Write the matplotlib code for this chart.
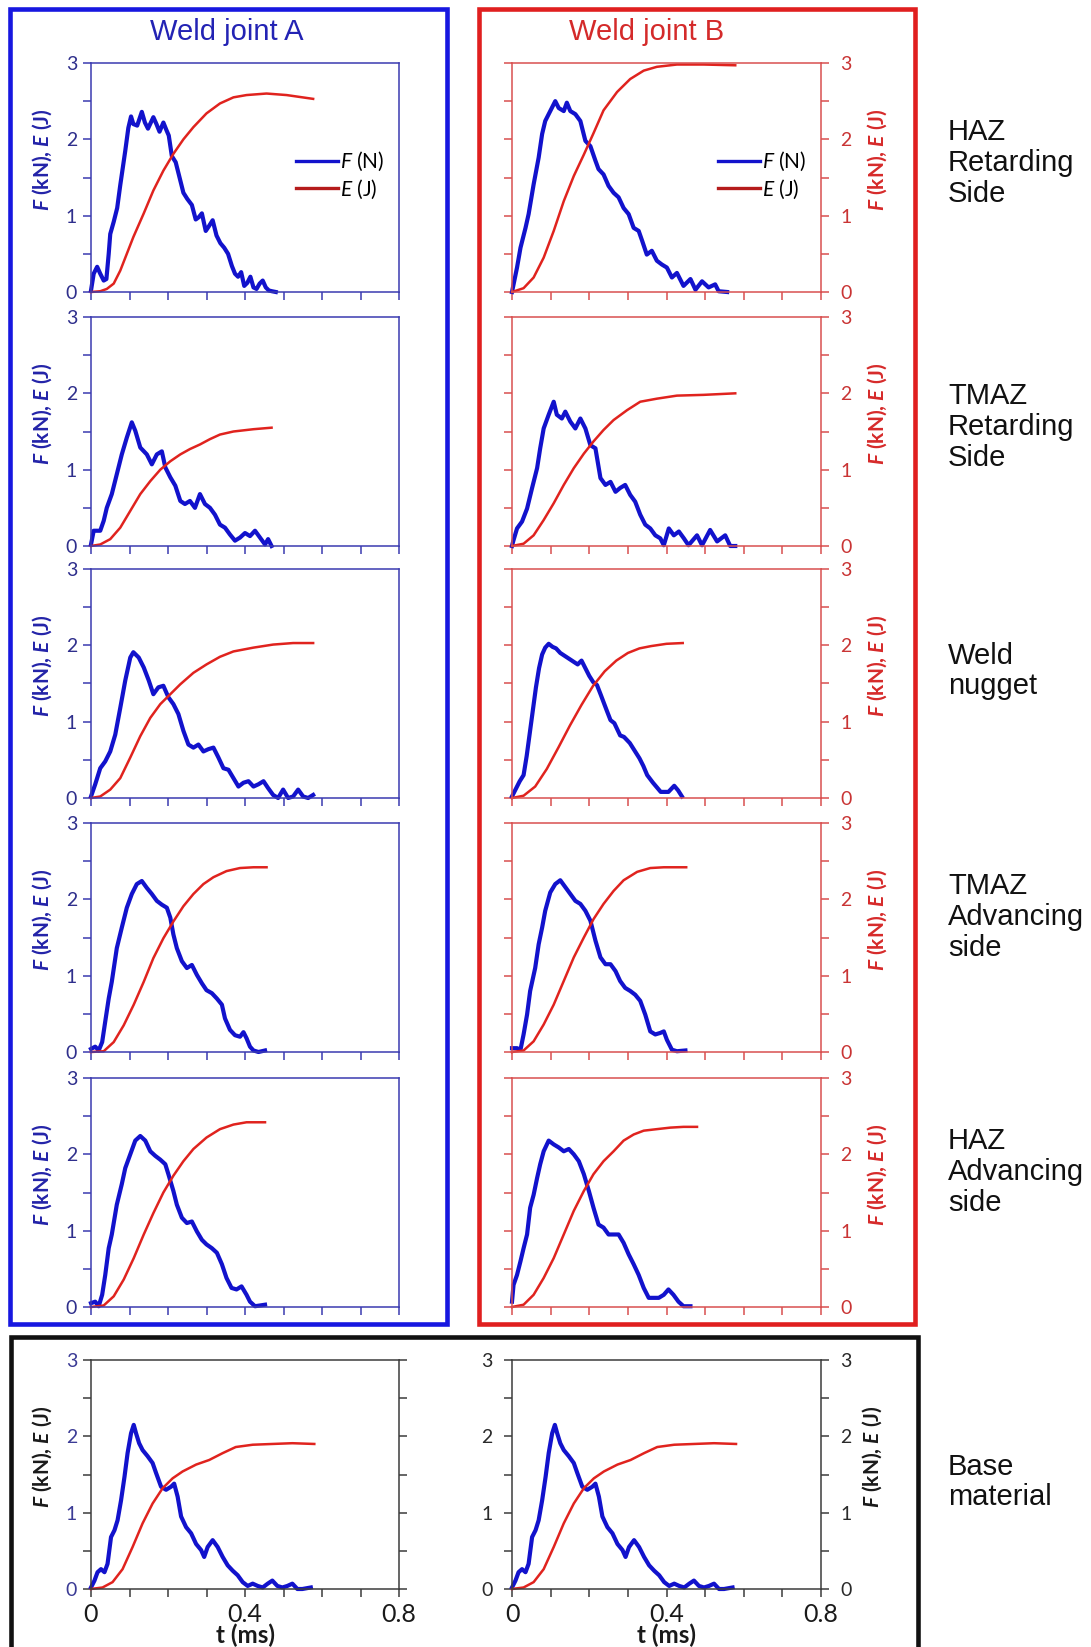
import numpy as np
import matplotlib
matplotlib.use('Agg')
import matplotlib.pyplot as plt
from matplotlib.patches import Rectangle

plt.rcParams['font.family'] = ['Lato', 'DejaVu Sans']
plt.rcParams['mathtext.fontset'] = 'custom'
plt.rcParams['mathtext.rm'] = 'Lato'
plt.rcParams['mathtext.it'] = 'Lato:italic'
plt.rcParams['mathtext.bf'] = 'Lato:bold'
plt.rcParams['mathtext.bfit'] = 'Lato:bold:italic'

# ---- impact curves: force F (kN) and absorbed energy E (J) vs time t (ms) ----
# weld joint A
A1_F_t = [0, 0.007, 0.016, 0.024, 0.033, 0.040, 0.046, 0.050, 0.059, 0.068, 0.076, 0.089, 0.097, 0.104,
          0.110, 0.120, 0.132, 0.140, 0.148, 0.162, 0.170, 0.178, 0.188, 0.196, 0.202, 0.210, 0.220,
          0.230, 0.240, 0.250, 0.262, 0.272, 0.280, 0.288, 0.298, 0.306, 0.316, 0.326, 0.336, 0.346,
          0.356, 0.366, 0.374, 0.382, 0.390, 0.398, 0.406, 0.414, 0.422, 0.430, 0.438, 0.446, 0.454,
          0.462, 0.470, 0.480]
A1_F = [0.02, 0.24, 0.33, 0.24, 0.15, 0.17, 0.50, 0.76, 0.92, 1.10, 1.40, 1.85, 2.15, 2.30,
        2.20, 2.18, 2.36, 2.22, 2.14, 2.29, 2.20, 2.10, 2.22, 2.12, 2.05, 1.78, 1.70,
        1.50, 1.30, 1.22, 1.14, 0.95, 0.98, 1.03, 0.80, 0.86, 0.94, 0.74, 0.64, 0.58,
        0.50, 0.34, 0.24, 0.20, 0.26, 0.08, 0.12, 0.20, 0.06, 0.04, 0.11, 0.15, 0.06,
        0.02, 0.01, 0.0]
A1_E_t = [0, 0.024, 0.041, 0.059, 0.076, 0.093, 0.110, 0.137, 0.162, 0.188, 0.214, 0.240, 0.266,
          0.300, 0.335, 0.370, 0.404, 0.456, 0.508, 0.577]
A1_E = [0, 0.01, 0.04, 0.11, 0.28, 0.50, 0.72, 1.03, 1.33, 1.59, 1.81, 2.00, 2.16,
        2.34, 2.47, 2.55, 2.58, 2.60, 2.58, 2.53]

A2_F_t = [0, 0.007, 0.024, 0.033, 0.041, 0.054, 0.067, 0.080, 0.093, 0.106, 0.115, 0.128, 0.145,
          0.158, 0.171, 0.184, 0.193, 0.206, 0.219, 0.232, 0.244, 0.257, 0.270, 0.283, 0.296, 0.309,
          0.322, 0.335, 0.348, 0.361, 0.374, 0.387, 0.400, 0.413, 0.426, 0.439, 0.452, 0.460, 0.469]
A2_F = [0.02, 0.20, 0.20, 0.33, 0.50, 0.68, 0.94, 1.20, 1.42, 1.62, 1.51, 1.29, 1.20,
        1.07, 1.20, 1.24, 1.03, 0.90, 0.79, 0.59, 0.55, 0.59, 0.50, 0.68, 0.55, 0.50,
        0.41, 0.28, 0.24, 0.15, 0.07, 0.11, 0.17, 0.13, 0.20, 0.11, 0.02, 0.09, 0.0]
A2_E_t = [0, 0.024, 0.050, 0.076, 0.102, 0.128, 0.154, 0.180, 0.206, 0.232, 0.257, 0.283, 0.309,
          0.335, 0.370, 0.422, 0.469]
A2_E = [0, 0.02, 0.09, 0.24, 0.46, 0.68, 0.85, 1.00, 1.11, 1.20, 1.27, 1.33, 1.40,
        1.46, 1.50, 1.53, 1.55]

A3_F_t = [0, 0.011, 0.024, 0.037, 0.050, 0.063, 0.076, 0.089, 0.102, 0.110, 0.124, 0.137, 0.150,
          0.162, 0.175, 0.188, 0.201, 0.214, 0.227, 0.240, 0.253, 0.266, 0.279, 0.292, 0.305, 0.318,
          0.331, 0.344, 0.357, 0.370, 0.383, 0.396, 0.409, 0.422, 0.435, 0.448, 0.460, 0.473, 0.486,
          0.499, 0.512, 0.525, 0.538, 0.551, 0.564, 0.577]
A3_F = [0.02, 0.18, 0.39, 0.48, 0.61, 0.83, 1.18, 1.54, 1.84, 1.91, 1.84, 1.71, 1.54,
        1.36, 1.45, 1.47, 1.32, 1.23, 1.10, 0.88, 0.70, 0.66, 0.70, 0.61, 0.64, 0.66,
        0.53, 0.39, 0.37, 0.26, 0.15, 0.20, 0.22, 0.15, 0.18, 0.22, 0.13, 0.04, 0.0,
        0.11, 0.0, 0.02, 0.11, 0.02, 0.0, 0.04]
A3_E_t = [0, 0.024, 0.050, 0.076, 0.102, 0.128, 0.154, 0.180, 0.206, 0.232, 0.266, 0.300, 0.335,
          0.370, 0.422, 0.473, 0.525, 0.577]
A3_E = [0, 0.02, 0.11, 0.26, 0.53, 0.81, 1.05, 1.23, 1.36, 1.49, 1.64, 1.75, 1.85,
        1.92, 1.97, 2.01, 2.03, 2.03]

A4_F_t = [0, 0.011, 0.020, 0.029, 0.037, 0.046, 0.054, 0.067, 0.080, 0.093, 0.106, 0.119, 0.132,
          0.145, 0.158, 0.171, 0.184, 0.197, 0.206, 0.214, 0.223, 0.236, 0.249, 0.262, 0.275, 0.288,
          0.300, 0.314, 0.327, 0.340, 0.348, 0.361, 0.374, 0.387, 0.396, 0.404, 0.413, 0.422, 0.435,
          0.452]
A4_F = [0.04, 0.07, 0.02, 0.13, 0.40, 0.70, 0.92, 1.36, 1.63, 1.89, 2.07, 2.20, 2.24,
        2.15, 2.07, 1.98, 1.93, 1.89, 1.76, 1.54, 1.36, 1.19, 1.10, 1.14, 1.01, 0.90,
        0.81, 0.77, 0.70, 0.62, 0.44, 0.29, 0.22, 0.20, 0.26, 0.18, 0.07, 0.02, 0.0,
        0.02]
A4_E_t = [0, 0.033, 0.059, 0.085, 0.111, 0.137, 0.162, 0.188, 0.214, 0.240, 0.266, 0.292, 0.318,
          0.352, 0.387, 0.422, 0.456]
A4_E = [0, 0.01, 0.13, 0.35, 0.62, 0.92, 1.23, 1.49, 1.71, 1.91, 2.07, 2.20, 2.29,
        2.37, 2.41, 2.42, 2.42]

A5_F_t = [0, 0.011, 0.020, 0.029, 0.037, 0.046, 0.054, 0.067, 0.080, 0.089, 0.102, 0.115, 0.128,
          0.141, 0.154, 0.167, 0.180, 0.193, 0.201, 0.214, 0.223, 0.236, 0.249, 0.262, 0.275, 0.288,
          0.300, 0.314, 0.327, 0.340, 0.352, 0.365, 0.378, 0.391, 0.404, 0.413, 0.426, 0.452]
A5_F = [0.05, 0.07, 0.01, 0.16, 0.42, 0.77, 0.95, 1.34, 1.61, 1.82, 2.00, 2.18, 2.24,
        2.18, 2.04, 1.98, 1.93, 1.87, 1.74, 1.52, 1.34, 1.17, 1.10, 1.12, 0.99, 0.88,
        0.82, 0.77, 0.71, 0.56, 0.38, 0.25, 0.23, 0.27, 0.16, 0.07, 0.01, 0.03]
A5_E_t = [0, 0.033, 0.059, 0.085, 0.111, 0.137, 0.162, 0.188, 0.214, 0.240, 0.266, 0.300, 0.335,
          0.370, 0.404, 0.452]
A5_E = [0, 0.02, 0.14, 0.36, 0.64, 0.95, 1.23, 1.50, 1.72, 1.91, 2.07, 2.22, 2.33,
        2.39, 2.42, 2.42]

# weld joint B
B1_F_t = [0, 0.013, 0.022, 0.035, 0.043, 0.056, 0.069, 0.078, 0.086, 0.099, 0.112, 0.121, 0.134,
          0.142, 0.151, 0.164, 0.177, 0.190, 0.203, 0.216, 0.224, 0.237, 0.250, 0.263, 0.276, 0.289,
          0.302, 0.315, 0.328, 0.337, 0.349, 0.362, 0.375, 0.388, 0.401, 0.414, 0.427, 0.444, 0.462,
          0.475, 0.492, 0.509, 0.526, 0.535, 0.557]
B1_F = [0.0, 0.32, 0.58, 0.84, 1.02, 1.41, 1.76, 2.07, 2.24, 2.37, 2.50, 2.41, 2.37,
        2.48, 2.37, 2.33, 2.24, 1.98, 1.91, 1.72, 1.61, 1.54, 1.39, 1.30, 1.24, 1.10,
        1.02, 0.84, 0.80, 0.67, 0.49, 0.54, 0.41, 0.36, 0.32, 0.19, 0.25, 0.08, 0.17,
        0.03, 0.14, 0.06, 0.10, 0.01, 0.0]
B1_E_t = [0, 0.030, 0.056, 0.082, 0.108, 0.134, 0.160, 0.186, 0.211, 0.237, 0.272, 0.306, 0.341,
          0.375, 0.427, 0.496, 0.578]
B1_E = [0, 0.05, 0.19, 0.45, 0.80, 1.19, 1.52, 1.80, 2.08, 2.38, 2.62, 2.79, 2.90,
        2.95, 2.98, 2.98, 2.97]

B2_F_t = [0, 0.003, 0.013, 0.026, 0.039, 0.052, 0.065, 0.073, 0.082, 0.095, 0.108, 0.116, 0.129,
          0.138, 0.151, 0.164, 0.177, 0.190, 0.203, 0.216, 0.229, 0.242, 0.255, 0.268, 0.280, 0.293,
          0.306, 0.319, 0.332, 0.345, 0.358, 0.371, 0.384, 0.393, 0.406, 0.419, 0.432, 0.445, 0.457,
          0.479, 0.492, 0.513, 0.531, 0.552, 0.565, 0.578]
B2_F = [0.0, 0.06, 0.23, 0.32, 0.49, 0.76, 1.02, 1.28, 1.54, 1.72, 1.89, 1.72, 1.67,
        1.76, 1.63, 1.54, 1.67, 1.54, 1.32, 1.28, 0.89, 0.80, 0.84, 0.71, 0.76, 0.80,
        0.67, 0.58, 0.41, 0.28, 0.23, 0.14, 0.10, 0.01, 0.23, 0.14, 0.19, 0.10, 0.01,
        0.14, 0.01, 0.21, 0.06, 0.14, 0.0, 0.0]
B2_E_t = [0, 0.030, 0.056, 0.082, 0.108, 0.134, 0.160, 0.186, 0.211, 0.237, 0.263, 0.298, 0.332,
          0.375, 0.427, 0.496, 0.578]
B2_E = [0, 0.03, 0.14, 0.34, 0.56, 0.80, 1.02, 1.21, 1.37, 1.52, 1.65, 1.78, 1.89,
        1.93, 1.97, 1.98, 2.00]

B3_F_t = [0, 0.010, 0.020, 0.030, 0.038, 0.046, 0.054, 0.062, 0.070, 0.078, 0.086, 0.095, 0.105,
          0.114, 0.125, 0.140, 0.155, 0.170, 0.180, 0.190, 0.200, 0.210, 0.220, 0.230, 0.245, 0.255,
          0.265, 0.280, 0.290, 0.305, 0.320, 0.330, 0.340, 0.350, 0.365, 0.385, 0.405, 0.420, 0.430,
          0.440]
B3_F = [0.02, 0.12, 0.22, 0.30, 0.55, 0.85, 1.15, 1.45, 1.70, 1.88, 1.97, 2.02, 1.98,
        1.96, 1.90, 1.85, 1.80, 1.75, 1.80, 1.70, 1.60, 1.52, 1.48, 1.35, 1.15, 1.02,
        0.98, 0.82, 0.80, 0.72, 0.60, 0.52, 0.42, 0.30, 0.20, 0.08, 0.08, 0.16, 0.10,
        0.02]
B3_E_t = [0, 0.030, 0.060, 0.090, 0.120, 0.150, 0.180, 0.210, 0.240, 0.270, 0.300, 0.330, 0.360,
          0.400, 0.442]
B3_E = [0, 0.03, 0.15, 0.38, 0.66, 0.95, 1.22, 1.47, 1.66, 1.80, 1.90, 1.96, 1.99,
        2.02, 2.03]

B4_F_t = [0, 0.013, 0.022, 0.030, 0.039, 0.047, 0.060, 0.069, 0.078, 0.086, 0.099, 0.112, 0.125,
          0.138, 0.151, 0.164, 0.177, 0.190, 0.203, 0.216, 0.229, 0.242, 0.255, 0.268, 0.280, 0.293,
          0.306, 0.319, 0.332, 0.345, 0.358, 0.371, 0.384, 0.393, 0.401, 0.414, 0.427, 0.449]
B4_F = [0.05, 0.05, 0.03, 0.23, 0.49, 0.80, 1.10, 1.41, 1.63, 1.85, 2.09, 2.20, 2.25,
        2.16, 2.07, 1.98, 1.94, 1.85, 1.72, 1.46, 1.24, 1.15, 1.15, 1.06, 0.93, 0.84,
        0.80, 0.75, 0.67, 0.49, 0.27, 0.23, 0.25, 0.27, 0.16, 0.03, 0.01, 0.02]
B4_E_t = [0, 0.030, 0.056, 0.082, 0.108, 0.134, 0.160, 0.186, 0.211, 0.237, 0.263, 0.289, 0.324,
          0.358, 0.393, 0.451]
B4_E = [0, 0.02, 0.14, 0.36, 0.62, 0.93, 1.24, 1.50, 1.74, 1.94, 2.11, 2.25, 2.36,
        2.41, 2.42, 2.42]

B5_F_t = [0, 0.004, 0.013, 0.022, 0.030, 0.039, 0.047, 0.056, 0.065, 0.073, 0.082, 0.095, 0.108,
          0.121, 0.134, 0.147, 0.160, 0.173, 0.186, 0.199, 0.211, 0.224, 0.237, 0.250, 0.263, 0.276,
          0.289, 0.302, 0.315, 0.328, 0.341, 0.354, 0.367, 0.380, 0.393, 0.405, 0.418, 0.431, 0.444,
          0.462]
B5_F = [0.07, 0.29, 0.42, 0.60, 0.77, 0.95, 1.30, 1.47, 1.69, 1.87, 2.04, 2.18, 2.13,
        2.09, 2.04, 2.07, 2.00, 1.91, 1.74, 1.52, 1.30, 1.08, 1.04, 0.95, 0.95, 0.95,
        0.84, 0.69, 0.56, 0.42, 0.25, 0.12, 0.12, 0.12, 0.16, 0.23, 0.16, 0.07, 0.01,
        0.01]
B5_E_t = [0, 0.030, 0.056, 0.082, 0.108, 0.134, 0.160, 0.186, 0.211, 0.237, 0.263, 0.289, 0.315,
          0.341, 0.375, 0.410, 0.444, 0.479]
B5_E = [0, 0.03, 0.16, 0.38, 0.64, 0.95, 1.26, 1.52, 1.74, 1.91, 2.04, 2.18, 2.26,
        2.31, 2.33, 2.35, 2.36, 2.36]

# base material (same specimen shown under both joints)
BM_F_t = [0, 0.009, 0.017, 0.026, 0.035, 0.043, 0.052, 0.061, 0.069, 0.078, 0.087, 0.095, 0.104,
          0.111, 0.117, 0.125, 0.134, 0.147, 0.160, 0.169, 0.182, 0.195, 0.208, 0.216, 0.225, 0.234,
          0.247, 0.260, 0.273, 0.286, 0.294, 0.303, 0.316, 0.329, 0.342, 0.355, 0.368, 0.381, 0.394,
          0.407, 0.420, 0.433, 0.446, 0.459, 0.471, 0.484, 0.497, 0.510, 0.523, 0.536, 0.549, 0.571]
BM_F = [0.02, 0.11, 0.22, 0.26, 0.22, 0.33, 0.68, 0.77, 0.90, 1.16, 1.47, 1.78, 2.04,
        2.15, 2.04, 1.91, 1.82, 1.74, 1.65, 1.52, 1.34, 1.30, 1.34, 1.38, 1.21, 0.95,
        0.81, 0.73, 0.59, 0.51, 0.42, 0.55, 0.64, 0.55, 0.42, 0.31, 0.24, 0.18, 0.09,
        0.04, 0.07, 0.04, 0.02, 0.07, 0.11, 0.04, 0.02, 0.04, 0.07, 0.0, 0.0, 0.02]
BM_E_t = [0, 0.030, 0.056, 0.082, 0.108, 0.134, 0.160, 0.186, 0.212, 0.238, 0.273, 0.307, 0.342,
          0.376, 0.420, 0.471, 0.523, 0.580]
BM_E = [0, 0.02, 0.09, 0.26, 0.55, 0.86, 1.12, 1.32, 1.45, 1.54, 1.63, 1.69, 1.78,
        1.86, 1.89, 1.90, 1.91, 1.90]

zones = ['HAZ\nRetarding\nSide', 'TMAZ\nRetarding\nSide', 'Weld\nnugget',
         'TMAZ\nAdvancing\nside', 'HAZ\nAdvancing\nside', 'Base\nmaterial']
joint_titles = ['Weld joint A', 'Weld joint B']
x_ticklabels = ['0', '', '', '', '0.4', '', '', '', '0.8']
y_ticklabels = ['0', '', '1', '', '2', '', '3']

curves_A = [(A1_F_t, A1_F, A1_E_t, A1_E), (A2_F_t, A2_F, A2_E_t, A2_E), (A3_F_t, A3_F, A3_E_t, A3_E),
            (A4_F_t, A4_F, A4_E_t, A4_E), (A5_F_t, A5_F, A5_E_t, A5_E), (BM_F_t, BM_F, BM_E_t, BM_E)]
curves_B = [(B1_F_t, B1_F, B1_E_t, B1_E), (B2_F_t, B2_F, B2_E_t, B2_E), (B3_F_t, B3_F, B3_E_t, B3_E),
            (B4_F_t, B4_F, B4_E_t, B4_E), (B5_F_t, B5_F, B5_E_t, B5_E), (BM_F_t, BM_F, BM_E_t, BM_E)]

F_COLOR = '#1212cc'
E_COLOR = '#e0231e'
BLUE_FRAME = '#1717e0'
RED_FRAME = '#e01f1f'

W, H = 1091, 1647
fig = plt.figure(figsize=(W / 100, H / 100), dpi=100)


def px_box(x0, y0, x1, y1):
    """pixel box (top-left origin) -> figure fraction rect"""
    return [x0 / W, 1 - y1 / H, (x1 - x0) / W, (y1 - y0) / H]


row_tops = [63, 317, 569, 823, 1078, 1360]
ax_h = 229
col_x = [(91, 399), (512, 821)]

YLABEL = r'$\mathbfit{F}$ (kN), $\mathbfit{E}$ (J)'

for row in range(6):
    for col in range(2):
        x0, x1 = col_x[col]
        y0 = row_tops[row]
        ax = fig.add_axes(px_box(x0, y0, x1, y0 + ax_h))
        ft, f, et, e = (curves_A if col == 0 else curves_B)[row]
        ax.plot(ft, f, color=F_COLOR, lw=3.0, clip_on=False, label=r'$\mathit{F}$ (N)')
        ax.plot(et, e, color=E_COLOR, lw=1.8, clip_on=False, label=r'$\mathit{E}$ (J)')
        ax.set_xlim(0, 0.8)
        ax.set_ylim(0, 3)

        base = row == 5
        if base:
            spine_c = '#3c3c3c'
            lab_c = '#3b3b95' if col == 0 else '#2a2a2a'
            ylab_c = '#1a1a1a'
        elif col == 0:
            spine_c, lab_c, ylab_c = '#3b3bb0', '#2f2f8c', '#2323a8'
        else:
            spine_c, lab_c, ylab_c = '#d85050', '#c93434', '#d62a2a'

        for s in ax.spines.values():
            s.set_color(spine_c)
            s.set_linewidth(1.1)

        ax.set_xticks(np.arange(0, 0.81, 0.1))
        ax.set_yticks(np.arange(0, 3.01, 0.5))
        ax.set_yticklabels(y_ticklabels)
        ax.tick_params(direction='out', length=6, width=1.1, color=spine_c,
                       labelcolor=lab_c, labelsize=14)
        if base:
            ax.set_xticklabels(x_ticklabels)
            ax.tick_params(axis='x', labelsize=18, labelcolor='#1a1a1a', pad=4)
            ax.set_xlabel('t (ms)', fontsize=17.5, fontweight='bold', color='#1a1a1a', labelpad=-2)
        else:
            ax.set_xticklabels([])

        right_side = col == 1
        ax.tick_params(axis='y', left=True, right=(col == 1 or base),
                       labelleft=(col == 0 or base), labelright=right_side, pad=4)
        if right_side:
            ax.tick_params(axis='y', which='both', pad=8)
            ax.yaxis.set_label_position('right')
            ax.set_ylabel(YLABEL, fontsize=15, fontweight='bold', color=ylab_c, rotation=90)
            lx = 860 if base else 865
            ax.yaxis.set_label_coords((lx - x0) / (x1 - x0), 0.58)
        else:
            ax.set_ylabel(YLABEL, fontsize=15, fontweight='bold', color=ylab_c)
            ax.yaxis.set_label_coords((54 - x0) / (x1 - x0), 0.58)
        if base and col == 1:
            for t in ax.get_yticklabels():
                t.set_color('#2a2a2a')

        if row == 0:
            leg = ax.legend(loc='center left', bbox_to_anchor=(0.667, 0.51), frameon=False,
                            fontsize=15, handlelength=2.0, handletextpad=0.1, borderpad=0,
                            borderaxespad=0, labelspacing=0.2)
            leg.get_lines()[0].set_linewidth(2.4)
            leg.get_lines()[1].set_linewidth(2.4)
            leg.get_lines()[1].set_color('#b51c1c')

# group frames around each weld joint and around the base material
frames = [((10, 9, 447, 1324), BLUE_FRAME), ((479, 9, 915, 1324), RED_FRAME),
          ((11, 1337, 918, 1700), '#111111')]
for (fx0, fy0, fx1, fy1), c in frames:
    fig.add_artist(Rectangle((fx0 / W, 1 - fy1 / H), (fx1 - fx0) / W, (fy1 - fy0) / H,
                             transform=fig.transFigure, fill=False, edgecolor=c,
                             linewidth=3.3, clip_on=False))

fig.text(227 / W, 1 - 32 / H, joint_titles[0], fontsize=21, color='#2323b4',
         family='Liberation Sans', ha='center', va='center')
fig.text(647 / W, 1 - 32 / H, joint_titles[1], fontsize=21, color='#d42a2a',
         family='Liberation Sans', ha='center', va='center')

zone_y = [163, 427, 671, 917, 1172, 1482]
for name, yc in zip(zones, zone_y):
    fig.text(948 / W, 1 - yc / H, name, fontsize=21, color='#111111',
             family='Liberation Sans', ha='left', va='center', linespacing=1.12)

fig.savefig('out.png', dpi=100)
